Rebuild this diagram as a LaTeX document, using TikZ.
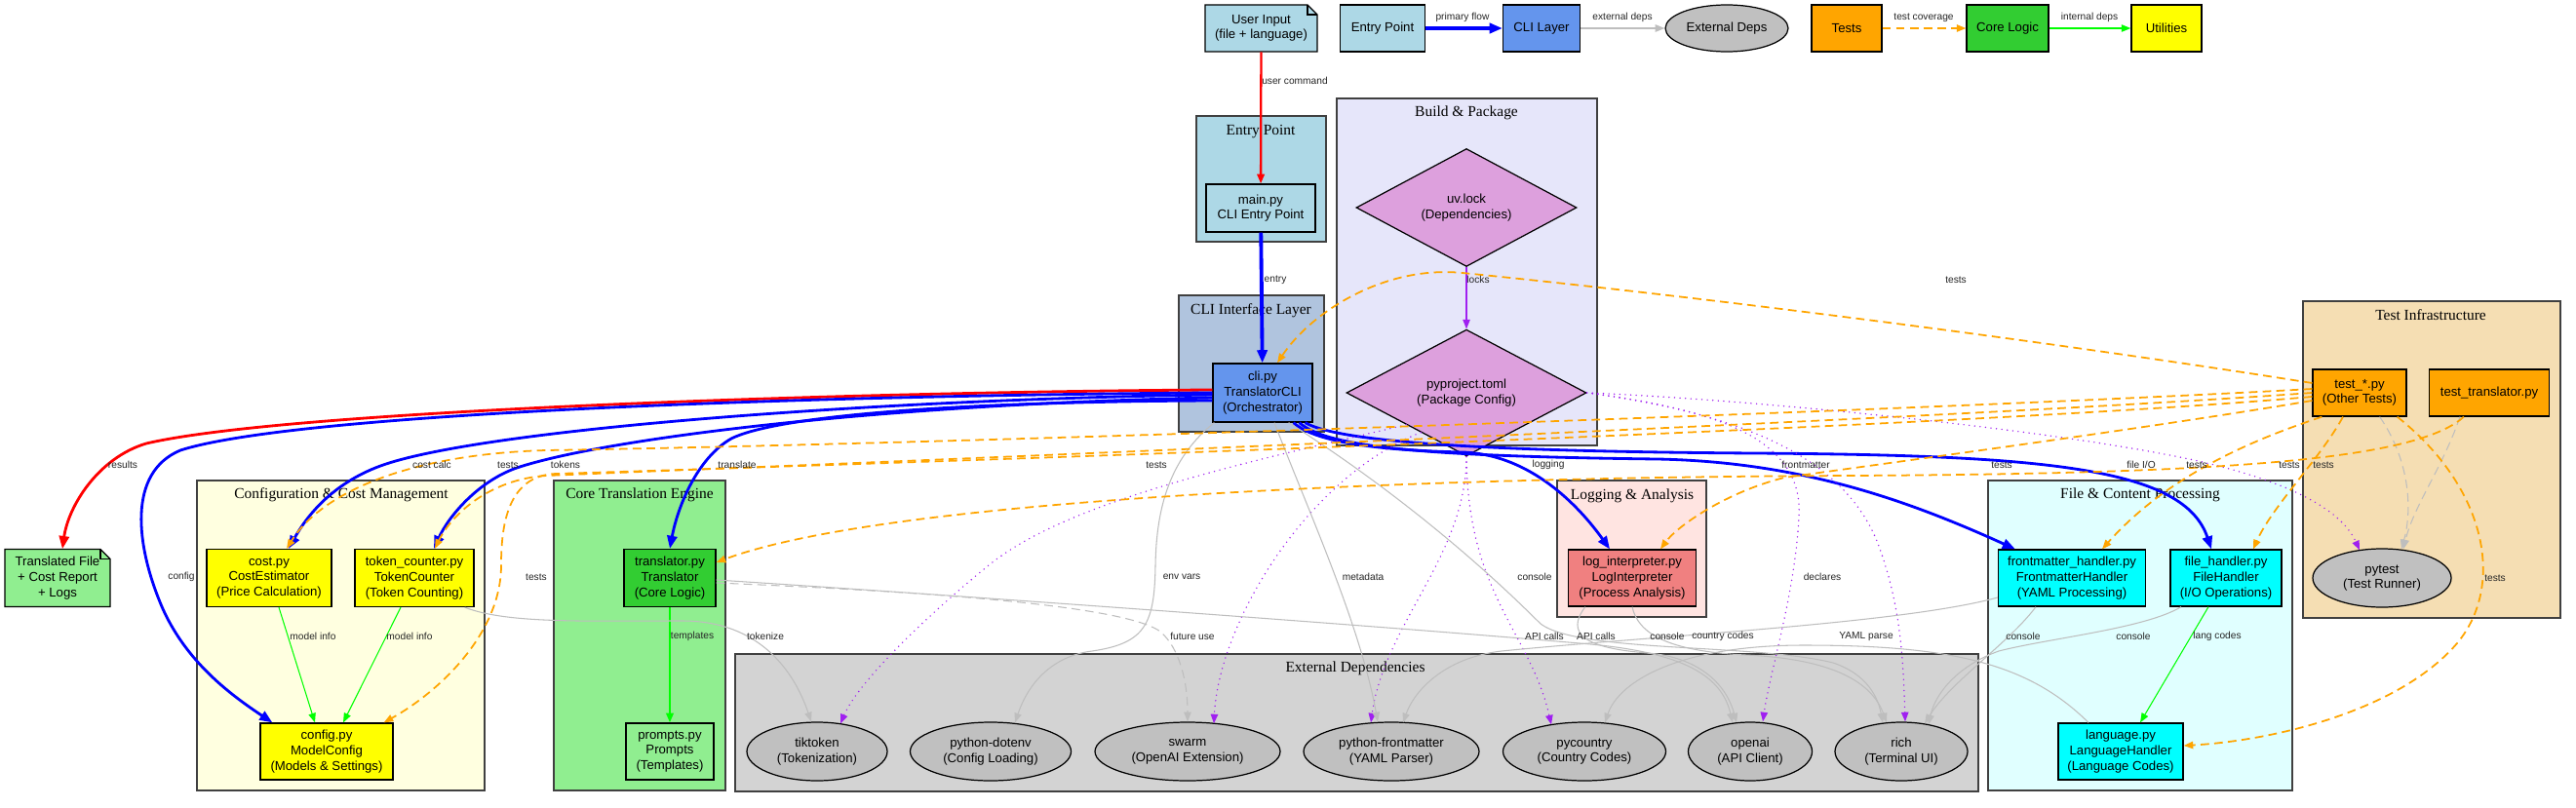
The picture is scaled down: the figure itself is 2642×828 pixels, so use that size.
\documentclass[tikz,border=0pt]{standalone}
\usepackage{fontspec}
\setmainfont{Liberation Serif}
\setsansfont{Liberation Sans}
\usetikzlibrary{arrows.meta,shapes.geometric,calc}

\definecolor{lblue}{HTML}{ADD8E6}
\definecolor{steel}{HTML}{B0C4DE}
\definecolor{cflower}{HTML}{6495ED}
\definecolor{lavend}{HTML}{E6E6FA}
\definecolor{plum}{HTML}{DDA0DD}
\definecolor{lyellow}{HTML}{FFFFE0}
\definecolor{gvyellow}{HTML}{FFFF00}
\definecolor{lgreen}{HTML}{90EE90}
\definecolor{lime}{HTML}{32CD32}
\definecolor{lgray}{HTML}{D3D3D3}
\definecolor{silver}{HTML}{C0C0C0}
\definecolor{mrose}{HTML}{FFE4E1}
\definecolor{lcoral}{HTML}{F08080}
\definecolor{lcyan}{HTML}{E0FFFF}
\definecolor{gvcyan}{HTML}{00FFFF}
\definecolor{wheat}{HTML}{F5DEB3}
\definecolor{gvorange}{HTML}{FFA500}
\definecolor{gvpurple}{HTML}{A020F0}
\definecolor{gvgreen}{HTML}{00FF00}
\definecolor{gvgray}{HTML}{BEBEBE}
\definecolor{gvred}{HTML}{FF0000}
\definecolor{gvblue}{HTML}{0000FF}

\newcommand{\boxfont}{\fontsize{7.5}{8.9}\selectfont\sffamily}
\newcommand{\grpfont}{\fontsize{8.8}{10.5}\selectfont\rmfamily}
\newcommand{\lblfont}{\fontsize{5.8}{7}\selectfont\sffamily}

\begin{document}
\begin{tikzpicture}[x=0.02cm,y=-0.02cm,
    every node/.style={inner sep=0pt,align=center},
    sz/.style 2 args={minimum width=#1*0.02cm,minimum height=#2*0.02cm},
    box/.style={draw=black,line width=0.7pt,font=\boxfont},
    oval/.style={box,ellipse,fill=silver},
    gem/.style={box,diamond,fill=plum},
    grp/.style={draw=black!75,line width=0.8pt},
    grptitle/.style={font=\grpfont},
    lbl/.style={font=\lblfont,text=black!85},
    tip/.style={-{Triangle[length=5.5pt,width=4.2pt]}},
    bigtip/.style={-{Triangle[length=7.5pt,width=5.8pt]}},
    flow/.style={draw=gvblue,line width=1.6pt,bigtip},
    use/.style={draw=gvgreen,line width=0.6pt,tip},
    call/.style={draw=gvgray,line width=0.6pt,tip},
    tst/.style={draw=gvorange,line width=1pt,dash pattern=on 5pt off 3pt,tip},
    decl/.style={draw=gvpurple,line width=0.9pt,line cap=round,dash pattern=on 0pt off 3.2pt,tip},
  ]
  \fill[white] (0,0) rectangle (2642,828);
  \useasboundingbox (0,0) rectangle (2642,828);

  % legend row
  \fill[lblue,draw=black,line width=0.7pt] (1236,53) -- (1236,5) -- (1341,5) -- (1351,15) -- (1351,53) -- cycle;
  \draw[line width=0.7pt] (1341,5) -- (1341,15) -- (1351,15);
  \node[font=\boxfont,sz={115}{48}] (uin) at (1293.5,29) {User Input\\(file + language)};
  \node[box,fill=lblue,sz={87}{48}] (lep) at (1418,29) {Entry Point};
  \node[box,fill=cflower,sz={79}{48}] (lcli) at (1581,29) {CLI Layer};
  \node[oval,sz={126}{48}] (lext) at (1771,29) {External Deps};
  \node[box,fill=gvorange,sz={72}{48}] (ltest) at (1894,29) {Tests};
  \node[box,fill=lime,sz={84}{48}] (lcore) at (2059,29) {Core Logic};
  \node[box,fill=gvyellow,sz={72}{48}] (lutil) at (2222,29) {Utilities};

  % clusters
  \draw[grp,fill=lblue] (1227,119) rectangle (1360,248);
  \node[grptitle] (tEntry) at (1293,135) {Entry Point};
  \draw[grp,fill=steel] (1209,303) rectangle (1358,443);
  \node[grptitle] (tCli) at (1283,319) {CLI Interface Layer};
  \draw[grp,fill=lavend] (1371,101) rectangle (1638,457);
  \node[grptitle] (tBuild) at (1504,116) {Build \& Package};
  \draw[grp,fill=lyellow] (202,493) rectangle (497,811);
  \node[grptitle] (tConf) at (350,508) {Configuration \& Cost Management};
  \draw[grp,fill=lgreen] (568,493) rectangle (744,811);
  \node[grptitle] (tCore) at (656,508) {Core Translation Engine};
  \draw[grp,fill=lgray] (754,671) rectangle (2029,812);
  \node[grptitle] (tExt) at (1390,686) {External Dependencies};
  \draw[grp,fill=mrose] (1597,493) rectangle (1750,633);
  \node[grptitle] (tLog) at (1674,509) {Logging \& Analysis};
  \draw[grp,fill=lcyan] (2039,493) rectangle (2351,811);
  \node[grptitle] (tFile) at (2195,508) {File \& Content Processing};
  \draw[grp,fill=wheat] (2362,309) rectangle (2626,634);
  \node[grptitle] (tTest) at (2493,323) {Test Infrastructure};

  % modules
  \node[box,fill=lblue,sz={112}{49}] (main) at (1293,213.5) {main.py\\CLI Entry Point};
  \node[box,fill=cflower,sz={102}{60}] (cli) at (1295,403) {cli.py\\TranslatorCLI\\(Orchestrator)};
  \node[gem,sz={226}{85}] (uvlock) at (1504,213) {uv.lock\\(Dependencies)};
  \node[gem,sz={246}{85}] (pyproj) at (1504,403) {pyproject.toml\\(Package Config)};
  \fill[lgreen,draw=black,line width=0.7pt] (5,622.5) -- (5,563.5) -- (103,563.5) -- (113,573.5) -- (113,622.5) -- cycle;
  \draw[line width=0.7pt] (103,563.5) -- (103,573.5) -- (113,573.5);
  \node[font=\boxfont,sz={108}{59}] (outfile) at (59,593) {Translated File\\+ Cost Report\\+ Logs};
  \node[box,fill=gvyellow,sz={128}{59}] (cost) at (276,593) {cost.py\\CostEstimator\\(Price Calculation)};
  \node[box,fill=gvyellow,sz={122}{59}] (tokc) at (425,593) {token\_counter.py\\TokenCounter\\(Token Counting)};
  \node[box,fill=gvyellow,sz={136}{58}] (config) at (335,771) {config.py\\ModelConfig\\(Models \& Settings)};
  \node[box,fill=lime,sz={94}{59}] (transl) at (687,593) {translator.py\\Translator\\(Core Logic)};
  \node[box,fill=lgreen,sz={90}{58}] (prompts) at (687,771) {prompts.py\\Prompts\\(Templates)};
  \node[box,fill=lcoral,sz={131}{58}] (logi) at (1674,593) {log\_interpreter.py\\LogInterpreter\\(Process Analysis)};
  \node[box,fill=gvcyan,sz={151}{58}] (fmh) at (2125,593) {frontmatter\_handler.py\\FrontmatterHandler\\(YAML Processing)};
  \node[box,fill=gvcyan,sz={114}{58}] (fileh) at (2283,593) {file\_handler.py\\FileHandler\\(I/O Operations)};
  \node[box,fill=gvcyan,sz={128}{58}] (lang) at (2175,771) {language.py\\LanguageHandler\\(Language Codes)};
  \node[box,fill=gvorange,sz={96}{48}] (testo) at (2420,403) {test\_*.py\\(Other Tests)};
  \node[box,fill=gvorange,sz={123}{48}] (testt) at (2553,403) {test\_translator.py};
  \node[oval,sz={142}{60}] (pytest) at (2443,593) {pytest\\(Test Runner)};
  % external packages
  \node[oval,sz={144}{60}] (tiktoken) at (838,771) {tiktoken\\(Tokenization)};
  \node[oval,sz={165}{60}] (dotenv) at (1016,771) {python-dotenv\\(Config Loading)};
  \node[oval,sz={190}{60}] (swarm) at (1218,771) {swarm\\(OpenAI Extension)};
  \node[oval,sz={180}{60}] (pyfm) at (1427,771) {python-frontmatter\\(YAML Parser)};
  \node[oval,sz={167}{60}] (pycountry) at (1625,771) {pycountry\\(Country Codes)};
  \node[oval,sz={127}{60}] (openai) at (1795,771) {openai\\(API Client)};
  \node[oval,sz={136}{60}] (rich) at (1950,771) {rich\\(Terminal UI)};

  % legend edges
  \draw[draw=gvblue,line width=2.2pt,bigtip] (lep) -- (lcli);
  \draw[call,line width=0.8pt] (lcli) -- (lext);
  \draw[tst] (ltest) -- (lcore);
  \draw[use,line width=0.8pt] (lcore) -- (lutil);

  % main flow
  \draw[draw=gvred,line width=1.3pt,tip] (uin) -- (main);
  \draw[flow,line width=2.2pt] (main) -- (cli);
  \draw[draw=gvred,line width=1.6pt,bigtip] ($(cli.west)+(0,-3)$) .. controls (900,402) and (300,420) .. (150,455) .. controls (100,470) and (70,520) .. ($(outfile.north)+(5,0)$);
  \draw[flow] (cli.west) .. controls (800,406) and (300,425) .. (185,462) .. controls (130,485) and (140,560) .. (165,620) .. controls (190,680) and (240,715) .. ($(config.north west)+(13,0)$);
  \draw[flow] ($(cli.west)+(0,2)$) .. controls (900,410) and (500,440) .. (393,477) .. controls (350,492) and (320,520) .. ($(cost.north)+(20,0)$);
  \draw[flow] ($(cli.west)+(0,5)$) .. controls (900,415) and (620,450) .. (530,480) .. controls (490,494) and (460,530) .. ($(tokc.north)+(20,0)$);
  \draw[flow] ($(cli.west)+(0,8)$) .. controls (1000,412) and (800,425) .. (750,450) .. controls (715,470) and (695,520) .. (transl.north);
  \draw[flow] ($(cli.south east)+(-20,0)$) .. controls (1350,455) and (1420,462) .. (1500,464) .. controls (1570,466) and (1620,520) .. ($(logi.north)+(-23,0)$);
  \draw[flow] ($(cli.south east)+(-14,0)$) .. controls (1360,458) and (1450,468) .. (1700,471) .. controls (1850,474) and (1960,515) .. ($(fmh.north west)+(18,0)$);
  \draw[flow] ($(cli.south east)+(-8,0)$) .. controls (1370,452) and (1500,463) .. (1800,465) .. controls (2100,467) and (2240,480) .. ($(fileh.north)+(-15,0)$);

  % internal dependencies
  \draw[use] ($(cost.south)+(10,0)$) -- ($(config.north)+(-12,0)$);
  \draw[use] ($(tokc.south)+(-14,0)$) -- ($(config.north)+(17,0)$);
  \draw[use,line width=1.3pt] (transl) -- (prompts);
  \draw[use] ($(fileh.south)+(-18,0)$) -- ($(lang.north)+(20,0)$);
  \draw[draw=gvpurple,line width=0.7pt,tip] (uvlock) -- (pyproj);

  % declared packages
  \draw[decl] (pyproj.south west) .. controls (1300,470) and (1100,510) .. (1014,580) .. controls (950,632) and (880,700) .. ($(tiktoken.north)+(24,2)$);
  \draw[decl] ($(pyproj.south west)+(15,8)$) .. controls (1340,490) and (1250,640) .. ($(swarm.north)+(27,2)$);
  \draw[decl] (pyproj.south) .. controls (1504,570) and (1420,640) .. ($(pyfm.north)+(-21,1)$);
  \draw[decl] (pyproj.south) .. controls (1505,610) and (1570,650) .. ($(pycountry.north)+(-34,3)$);
  \draw[decl] (pyproj.east) .. controls (1760,420) and (1850,450) .. (1845,530) .. controls (1841,610) and (1815,690) .. ($(openai.north)+(13,0)$);
  \draw[decl] (pyproj.east) .. controls (1790,425) and (1890,470) .. (1925,555) .. controls (1950,620) and (1952,680) .. ($(rich.north)+(4,0)$);
  \draw[decl] (pyproj.east) .. controls (1800,410) and (2100,440) .. (2250,472) .. controls (2340,492) and (2400,520) .. ($(pytest.north)+(-23,2)$);

  % external calls
  \draw[call] ($(tokc.south east)+(-10,0)$) .. controls (520,640) and (600,637) .. (700,637) .. controls (780,637) and (815,690) .. ($(tiktoken.north)+(-6,0)$);
  \draw[call] ($(cli.south west)+(2,0)$) .. controls (1200,470) and (1186,520) .. (1185,580) .. controls (1184,640) and (1175,660) .. (1120,668) .. controls (1080,673) and (1055,700) .. ($(dotenv.north)+(25,1)$);
  \draw[call] ($(cli.south)+(12,0)$) .. controls (1340,520) and (1395,640) .. ($(pyfm.north)+(-14,0)$);
  \draw[call] ($(cli.south east)+(-25,0)$) .. controls (1410,490) and (1500,560) .. (1580,640) .. controls (1620,670) and (1800,660) .. (1880,680) .. controls (1910,690) and (1925,710) .. ($(rich.north)+(-19,1)$);
  \draw[call,dash pattern=on 5pt off 3pt] ($(transl.east)+(0,5)$) .. controls (900,605) and (1150,618) .. (1190,648) .. controls (1210,665) and (1218,700) .. (swarm.north);
  \draw[call] ($(transl.east)+(0,2)$) .. controls (1000,612) and (1450,645) .. (1620,660) .. controls (1720,668) and (1765,690) .. ($(openai.north)+(-18,1)$);
  \draw[call] ($(logi.south west)+(18,0)$) .. controls (1605,650) and (1625,665) .. (1690,670) .. controls (1740,674) and (1770,700) .. ($(openai.north)+(-14,1)$);
  \draw[call] (logi.south) .. controls (1680,650) and (1710,668) .. (1790,672) .. controls (1880,676) and (1920,700) .. ($(rich.north)+(-15,1)$);
  \draw[call] ($(lang.north)+(-33,0)$) .. controls (2080,680) and (2000,662) .. (1850,662) .. controls (1720,662) and (1660,700) .. ($(pycountry.north)+(21,1)$);
  \draw[call] ($(fmh.west)+(0,20)$) .. controls (1950,640) and (1700,652) .. (1540,668) .. controls (1480,675) and (1450,710) .. ($(pyfm.north)+(12,1)$);
  \draw[call] ($(fmh.south)+(-37,0)$) .. controls (2060,660) and (2000,700) .. ($(rich.north)+(24,2)$);
  \draw[call] ($(fileh.south)+(-46,0)$) .. controls (2200,645) and (2100,655) .. (2050,668) .. controls (2010,682) and (1985,710) .. ($(rich.north)+(28,3)$);
  \draw[call,dash pattern=on 5pt off 3pt] ($(testt.south)+(-30,0)$) .. controls (2505,480) and (2475,520) .. ($(pytest.north)+(22,1)$);
  \draw[call,dash pattern=on 5pt off 3pt] ($(testo.south east)+(-28,0)$) .. controls (2470,470) and (2475,520) .. ($(pytest.north)+(20,1)$);

  % tests
  \draw[tst] ($(testo.west)+(0,-10)$) .. controls (2100,350) and (1750,305) .. (1500,280) .. controls (1420,272) and (1345,320) .. ($(cli.north)+(15,0)$);
  \draw[tst] ($(testo.west)+(0,-4)$) .. controls (2000,420) and (1000,455) .. (560,462) .. controls (420,466) and (330,505) .. ($(cost.north)+(18,0)$);
  \draw[tst] (testo.west) .. controls (2000,430) and (1000,470) .. (560,488) .. controls (500,492) and (462,530) .. ($(tokc.north)+(21,0)$);
  \draw[tst] ($(testo.west)+(0,4)$) .. controls (2000,440) and (900,476) .. (570,486) .. controls (520,488) and (514,540) .. (514,580) .. controls (514,650) and (450,710) .. ($(config.north east)+(-10,0)$);
  \draw[tst] ($(testt.south west)+(36,0)$) .. controls (2480,470) and (2300,486) .. (1900,488) .. controls (1400,490) and (900,515) .. ($(transl.east)+(0,-16)$);
  \draw[tst] ($(testo.west)+(0,8)$) .. controls (2200,440) and (1900,480) .. (1830,490) .. controls (1770,505) and (1720,540) .. ($(logi.north)+(29,0)$);
  \draw[tst] ($(testo.south west)+(10,0)$) .. controls (2330,445) and (2230,480) .. ($(fmh.north)+(31,0)$);
  \draw[tst] ($(testo.south)+(-17,0)$) .. controls (2380,470) and (2330,520) .. ($(fileh.north)+(28,0)$);
  \draw[tst] ($(testo.south east)+(-10,0)$) .. controls (2550,500) and (2570,600) .. (2520,660) .. controls (2460,730) and (2330,760) .. ($(lang.east)+(0,-6)$);

  % edge labels
  \node[lbl] (lbPrim) at (1500,18) {primary flow};
  \node[lbl] (lbExt) at (1664,18) {external deps};
  \node[lbl] (lbCov) at (1973,18) {test coverage};
  \node[lbl] (lbInt) at (2143,18) {internal deps};
  \node[lbl] (lbUser) at (1328,83) {user command};
  \node[lbl] (lbEntry) at (1308,287) {entry};
  \node[lbl] (lbLocks) at (1516,287) {locks};
  \node[lbl] (lbT1) at (2006,287) {tests};
  \node[lbl] (lbRes) at (126,477) {results};
  \node[lbl] (lbCost) at (443,477) {cost calc};
  \node[lbl] (lbT2) at (521,477) {tests};
  \node[lbl] (lbTok) at (580,477) {tokens};
  \node[lbl] (lbTrans) at (756,477) {translate};
  \node[lbl] (lbT3) at (1186,477) {tests};
  \node[lbl] (lbLog) at (1588,477) {logging};
  \node[lbl] (lbFm) at (1852,477) {frontmatter};
  \node[lbl] (lbT4) at (2053,477) {tests};
  \node[lbl] (lbIO) at (2196,477) {file I/O};
  \node[lbl] (lbT5) at (2253,477) {tests};
  \node[lbl] (lbT6) at (2348,477) {tests};
  \node[lbl] (lbT7) at (2383,477) {tests};
  \node[lbl] (lbConf) at (186,592) {config};
  \node[lbl] (lbT8) at (550,592) {tests};
  \node[lbl] (lbEnv) at (1212,592) {env vars};
  \node[lbl] (lbMeta) at (1398,592) {metadata};
  \node[lbl] (lbCon1) at (1574,592) {console};
  \node[lbl] (lbDecl) at (1869,592) {declares};
  \node[lbl] (lbT9) at (2559,593) {tests};
  \node[lbl] (lbMod1) at (321,653) {model info};
  \node[lbl] (lbMod2) at (420,653) {model info};
  \node[lbl] (lbTpl) at (710,653) {templates};
  \node[lbl] (lbTkz) at (785,653) {tokenize};
  \node[lbl] (lbFut) at (1223,653) {future use};
  \node[lbl] (lbApi1) at (1584,653) {API calls};
  \node[lbl] (lbApi2) at (1637,653) {API calls};
  \node[lbl] (lbCon2) at (1710,653) {console};
  \node[lbl] (lbCty) at (1767,653) {country codes};
  \node[lbl] (lbYaml) at (1914,653) {YAML parse};
  \node[lbl] (lbCon3) at (2075,653) {console};
  \node[lbl] (lbCon4) at (2188,653) {console};
  \node[lbl] (lbLang) at (2274,653) {lang codes};
\end{tikzpicture}
\end{document}
